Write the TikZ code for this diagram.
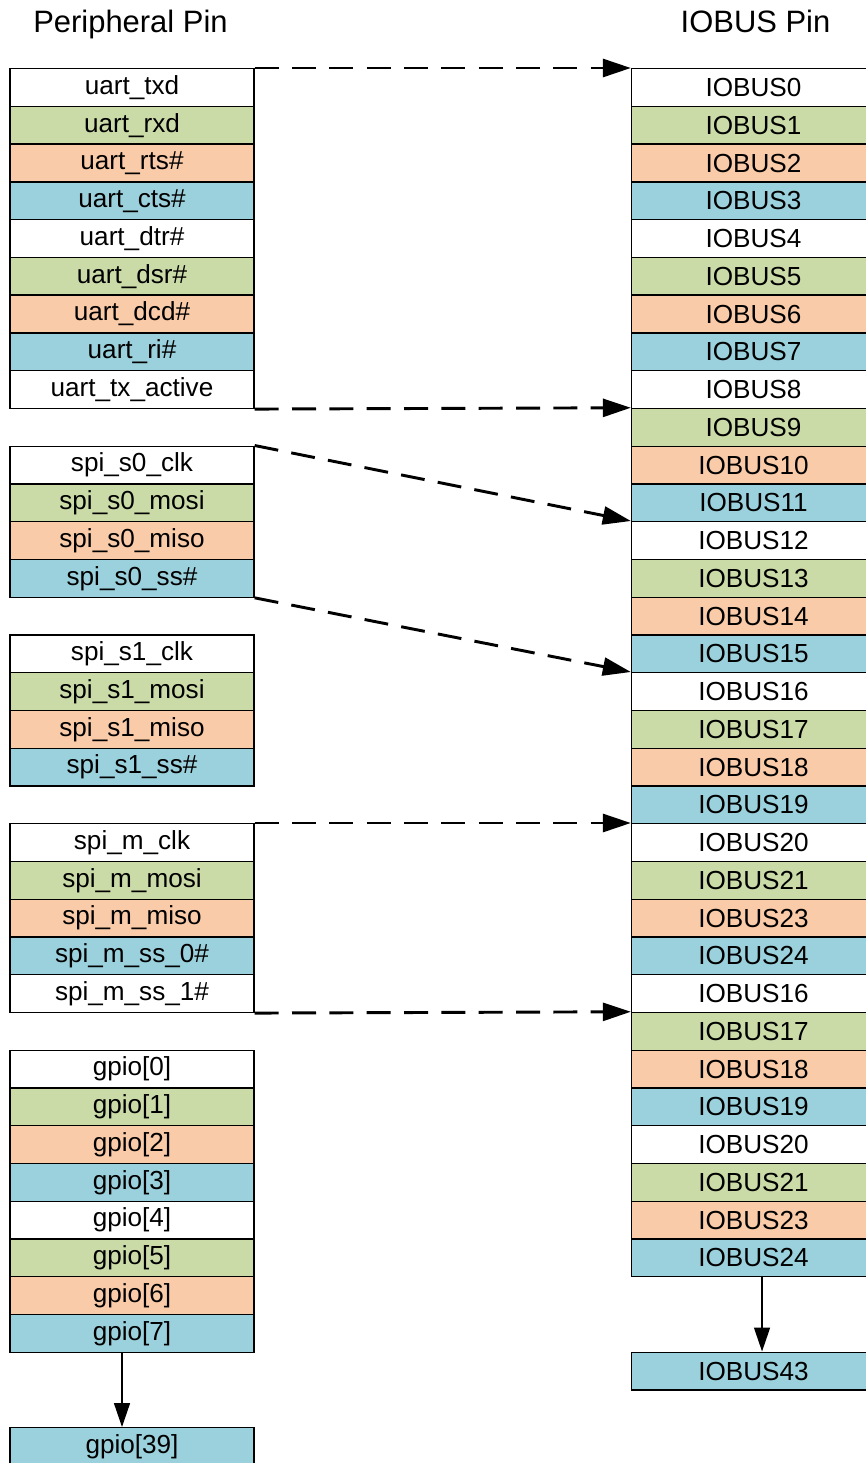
\documentclass[tikz,border=0pt]{standalone}
\usepackage{fontspec}
\setmainfont{Liberation Sans}
\usetikzlibrary{arrows.meta}

\definecolor{pin0}{HTML}{FFFFFF}
\definecolor{pin1}{HTML}{CBDBA8}
\definecolor{pin2}{HTML}{FACBA8}
\definecolor{pin3}{HTML}{9BD1DD}

\tikzset{
  pin/.style={draw, line width=1pt, minimum width=183pt, minimum height=28.31pt,
    inner sep=0pt, anchor=north, font=\fontsize{19.6}{22}\selectfont},
  headline/.style={anchor=base, font=\fontsize{23.2}{26}\selectfont},
  maplink/.style={-{Triangle[length=21pt,width=13.5pt]}, line width=2.2pt,
    dash pattern=on 18pt off 10pt},
  skiplink/.style={-{Triangle[length=18pt,width=12pt]}, line width=1.1pt},
}

\begin{document}
\begin{tikzpicture}[x=0.75pt,y=-0.75pt]
    \useasboundingbox (0,0) rectangle (866,1463);

    \node[headline] (periphtitle) at (130.5,33) {Peripheral Pin};
    \node[headline] (iobustitle) at (755.5,33) {IOBUS Pin};

    % peripheral pins
    \foreach \pinname [count=\i from 0, evaluate=\i as \col using {int(mod(\i,4))}] in
      {uart\_txd, uart\_rxd, uart\_rts\#, uart\_cts\#, uart\_dtr\#, uart\_dsr\#,
       uart\_dcd\#, uart\_ri\#, uart\_tx\_active}
      \node[pin, fill=pin\col] (uart\i) at (132,{68+\i*37.75}) {\pinname};

    \foreach \pinname [count=\i from 0, evaluate=\i as \col using {int(mod(\i,4))}] in
      {spi\_s0\_clk, spi\_s0\_mosi, spi\_s0\_miso, spi\_s0\_ss\#}
      \node[pin, fill=pin\col] (spisa\i) at (132,{445.5+\i*37.75}) {\pinname};

    \foreach \pinname [count=\i from 0, evaluate=\i as \col using {int(mod(\i,4))}] in
      {spi\_s1\_clk, spi\_s1\_mosi, spi\_s1\_miso, spi\_s1\_ss\#}
      \node[pin, fill=pin\col] (spisb\i) at (132,{634.25+\i*37.75}) {\pinname};

    \foreach \pinname [count=\i from 0, evaluate=\i as \col using {int(mod(\i,4))}] in
      {spi\_m\_clk, spi\_m\_mosi, spi\_m\_miso, spi\_m\_ss\_0\#, spi\_m\_ss\_1\#}
      \node[pin, fill=pin\col] (spim\i) at (132,{823+\i*37.75}) {\pinname};

    \foreach \i [evaluate=\i as \col using {int(mod(\i,4))}] in {0,...,7}
      \node[pin, fill=pin\col] (gpio\i) at (132,{1049.5+\i*37.75}) {gpio[\i]};
    \node[pin, fill=pin3] (gpio39) at (132,1427) {gpio[39]};

    % iobus pins
    \foreach \busno [count=\i from 0, evaluate=\i as \col using {int(mod(\i,4))}] in
      {0,...,21,23,24,16,17,18,19,20,21,23,24}
      \node[pin, fill=pin\col] (iobus\i) at (753.5,{68+\i*37.75}) {IOBUS\busno};
    \node[pin, fill=pin3] (iobus43) at (753.5,1351.5) {IOBUS43};

    % mapping
    \draw[maplink] (uart0.north east) -- (iobus0.north west);
    \draw[maplink] (uart8.south east) -- (iobus9.north west);
    \draw[maplink] (spisa0.north east) -- (iobus12.north west);
    \draw[maplink] (spisa3.south east) -- (iobus16.north west);
    \draw[maplink] (spim0.north east) -- (iobus20.north west);
    \draw[maplink] (spim4.south east) -- (iobus25.north west);

    \draw[skiplink] ([xshift=-7.5pt]gpio7.south) -- ([xshift=-7.5pt]gpio39.north);
    \draw[skiplink] ([xshift=6.4pt]iobus31.south) -- ([xshift=6.4pt]iobus43.north);
\end{tikzpicture}
\end{document}
